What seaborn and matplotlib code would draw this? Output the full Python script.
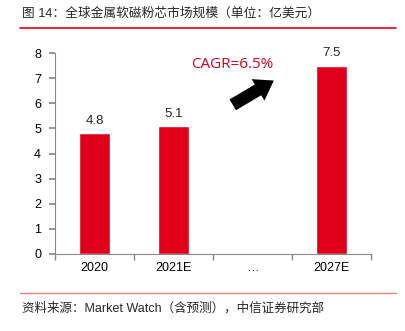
import matplotlib
matplotlib.use("Agg")
import matplotlib.pyplot as plt
import seaborn as sns
import numpy as np
import pandas as pd

categories = ["2020", "2021E", "…", "2027E"]
values = [4.8, 5.1, np.nan, 7.5]
value_labels = ["4.8", "5.1", "", "7.5"]
yticks = [0, 1, 2, 3, 4, 5, 6, 7, 8]
title = "图 14：全球金属软磁粉芯市场规模（单位：亿美元）"
source = "资料来源：Market Watch（含预测），中信证券研究部"
cagr = "CAGR=6.5%"

sns.set_theme(style="white")
plt.rcParams['font.family'] = ['Liberation Sans', 'Noto Sans CJK SC', 'DejaVu Sans']

df = pd.DataFrame({"cat": categories, "val": values})

fig = plt.figure(figsize=(4.06, 3.31), dpi=100)
ax = fig.add_axes([55/406, 1-254/331, 316/406, 201/331])
sns.barplot(data=df, x="cat", y="val", color="#E0001B", saturation=1, width=0.4, ax=ax)

ax.set_ylim(0, 8)
ax.set_yticks(yticks)
ax.set_xlim(-0.5, 3.5)
ax.set_xlabel("")
ax.set_ylabel("")
for s in ["top", "right"]:
    ax.spines[s].set_visible(False)
for s in ["left", "bottom"]:
    ax.spines[s].set_color("#888888")
    ax.spines[s].set_linewidth(0.8)
ax.tick_params(axis="y", which="both", left=True, length=4, color="#888888", labelsize=9, pad=6, labelcolor="black")
ax.set_xticks(range(4))
ax.set_xticklabels(categories, fontsize=9, color="black")
ax.tick_params(axis="x", which="major", length=0, pad=6)
ax.set_xticks([-0.5, 0.5, 1.5, 2.5, 3.5], minor=True)
ax.tick_params(axis="x", which="minor", bottom=True, length=4, color="#888888")

for i, (v, t) in enumerate(zip(values, value_labels)):
    if t:
        ax.text(i, v + 0.25, t, ha="center", va="bottom", fontsize=9.5)

ax.text(0.43, 0.945, cagr, transform=ax.transAxes, color="#D8001B", fontsize=11,
        ha="left", va="center", family=["Open Sans", "DejaVu Sans"])
ax.annotate("", xy=(0.70, 0.87), xytext=(0.555, 0.735), xycoords="axes fraction",
            textcoords="axes fraction",
            arrowprops=dict(arrowstyle="simple,head_width=1.5,head_length=1.1,tail_width=0.75",
                            color="black", lw=0))

fig.text(22/406, 1-14/331, title, fontsize=9.15, ha="left", va="center")
fig.add_artist(plt.Line2D([20/406, 396/406], [1-28/331, 1-28/331], color="#E0001B", lw=1.2))
fig.add_artist(plt.Line2D([20/406, 396/406], [1-293/331, 1-293/331], color="#E88080", lw=1.0))
fig.text(22/406, 1-308/331, source, fontsize=9, ha="left", va="center")

fig.savefig("out.png", dpi=100)
